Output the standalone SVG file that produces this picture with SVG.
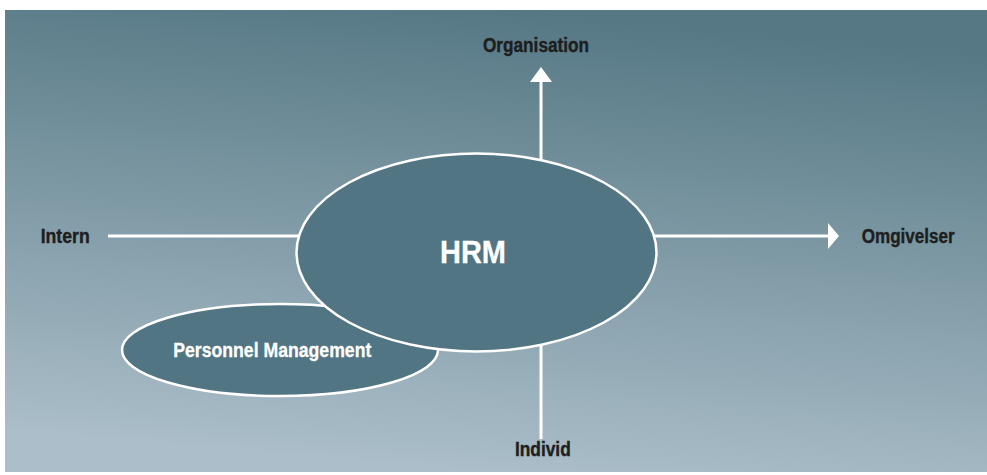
<svg xmlns="http://www.w3.org/2000/svg" width="987" height="475" viewBox="0 0 987 475">
<defs>
<linearGradient id="bg" gradientUnits="userSpaceOnUse" x1="510" y1="10" x2="470" y2="472">
<stop offset="0" stop-color="#557884"/>
<stop offset="1" stop-color="#abbec9"/>
</linearGradient>
<style>
.lbl{font-family:"Liberation Sans",Arial,sans-serif;font-weight:bold;fill:#1e1e20;font-size:20px;stroke:#1e1e20;stroke-width:0.4}
.in{font-family:"Liberation Sans",Arial,sans-serif;font-weight:bold;fill:#ffffff;stroke:#ffffff;stroke-width:0.3}
.node{fill:#527584;stroke:#ffffff;stroke-width:2.5}
.conn{stroke:#ffffff;stroke-width:3;fill:none}
.head{fill:#ffffff}
</style>
</defs>
<rect x="5" y="10" width="982" height="462" fill="url(#bg)"/>
<g id="connectors">
<line class="conn" x1="541" y1="80" x2="541" y2="439"/>
<polygon class="head" points="541,67 552,82 530,82"/>
<line class="conn" x1="108" y1="236" x2="830" y2="236"/>
<polygon class="head" points="839,236 828,223 828,249"/>
</g>
<g id="personnel">
<ellipse class="node" cx="280" cy="350" rx="158" ry="46"/>
<text class="in" x="173.3" y="356.7" font-size="20" textLength="198" lengthAdjust="spacingAndGlyphs">Personnel Management</text>
</g>
<g id="hrm">
<ellipse class="node" cx="476.5" cy="252.5" rx="180" ry="99"/>
<text class="in" x="440" y="263.3" font-size="32" textLength="66" lengthAdjust="spacingAndGlyphs">HRM</text>
</g>
<g id="organisation"><text class="lbl" x="483" y="52" textLength="106" lengthAdjust="spacingAndGlyphs">Organisation</text></g>
<g id="intern"><text class="lbl" x="40.7" y="242.7" textLength="49" lengthAdjust="spacingAndGlyphs">Intern</text></g>
<g id="omgivelser"><text class="lbl" x="861.7" y="243.3" textLength="93" lengthAdjust="spacingAndGlyphs">Omgivelser</text></g>
<g id="individ"><text class="lbl" x="515" y="456" textLength="55.7" lengthAdjust="spacingAndGlyphs">Individ</text></g>
</svg>
